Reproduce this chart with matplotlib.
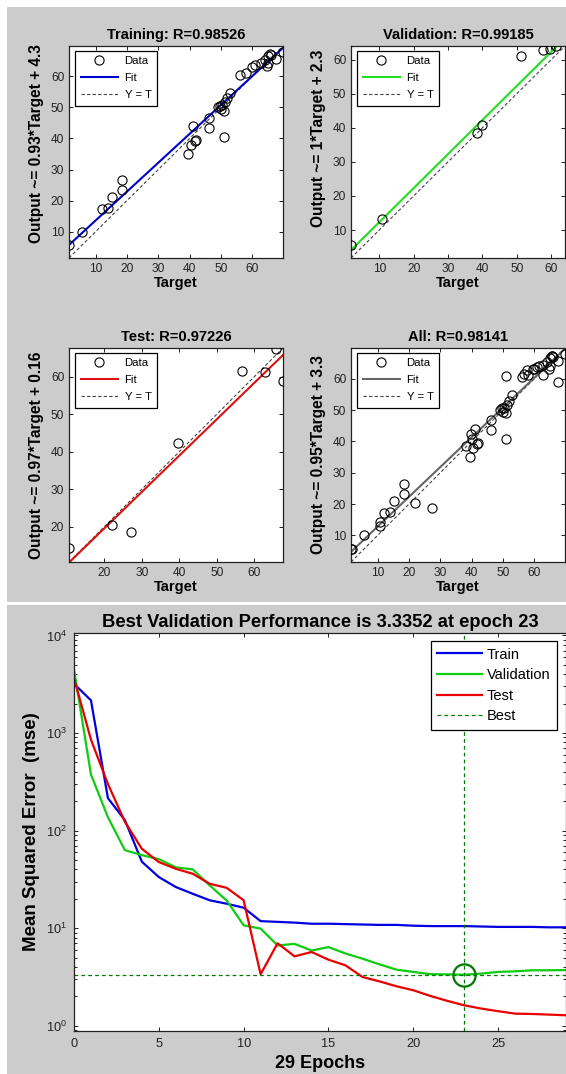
import matplotlib
matplotlib.use("Agg")
import matplotlib.pyplot as plt
from matplotlib.patches import Rectangle
from matplotlib.lines import Line2D
from matplotlib.ticker import MultipleLocator, LogLocator, NullFormatter
import numpy as np

plt.rcParams['font.family'] = ['Liberation Sans', 'DejaVu Sans']
plt.rcParams['mathtext.fontset'] = 'custom'
plt.rcParams['mathtext.rm'] = 'Liberation Sans'
plt.rcParams['mathtext.it'] = 'Liberation Sans:italic'
plt.rcParams['mathtext.bf'] = 'Liberation Sans:bold'

# ---------------- regression data ----------------
train_target = [1.5, 5.5, 12.0, 13.9, 15.3, 18.4, 18.4, 39.4, 40.4, 41.0, 41.6, 42.0,
                46.1, 46.3, 51.0, 49.0, 49.7, 50.2, 51.0, 51.2, 51.8, 52.8, 56.1, 57.9,
                59.9, 60.9, 62.8, 64.2, 64.9, 65.5, 64.7, 64.9, 67.5, 69.8, 49.9, 66.0]
train_output = [5.7, 10.0, 17.2, 17.6, 21.0, 23.3, 26.5, 35.1, 37.9, 43.9, 39.3, 39.6,
                43.5, 46.7, 40.6, 50.0, 50.5, 50.8, 48.9, 51.6, 53.0, 54.8, 60.4, 61.2,
                63.1, 63.6, 64.4, 65.2, 66.7, 67.2, 63.2, 64.2, 65.6, 67.9, 49.4, 67.0]

val_target = [1.8, 10.7, 38.3, 40.0, 51.1, 57.6, 59.7, 61.4]
val_output = [5.6, 13.1, 38.5, 40.9, 61.0, 62.9, 63.2, 64.0]

test_target = [10.6, 22.0, 27.2, 39.7, 56.8, 62.7, 65.7, 67.6]
test_output = [14.4, 20.4, 18.6, 42.4, 61.6, 61.3, 67.3, 58.8]

all_target = train_target + val_target + test_target
all_output = train_output + val_output + test_output

panel_names = ['Training', 'Validation', 'Test', 'All']
panel_r = ['0.98526', '0.99185', '0.97226', '0.98141']
fit_slope = [0.93, 1, 0.97, 0.95]
fit_intercept = [4.3, 2.3, 0.16, 3.3]
fit_colors = ['#0000cc', '#22dd22', '#dd1111', '#666666']

# ---------------- training performance ----------------
epochs = list(range(30))
train_perf = [3200, 2160, 215, 128, 48, 33.4, 26.4, 22.5, 19.3, 17.8, 16.2, 11.8, 11.6,
              11.4, 11.1, 11.1, 11.0, 10.9, 10.8, 10.8, 10.6, 10.5, 10.5, 10.5, 10.4,
              10.3, 10.3, 10.3, 10.2, 10.2]
val_perf = [4500, 375, 137, 63, 56, 51, 42, 40, 27.4, 19.2, 10.7, 9.9, 6.65, 6.9, 5.9,
            6.4, 5.5, 4.87, 4.26, 3.76, 3.56, 3.38, 3.36, 3.3352, 3.42, 3.56, 3.61, 3.70,
            3.70, 3.72]
test_perf = [3650, 855, 300, 123, 65, 47.6, 40.6, 36.1, 28.5, 25.9, 19.3, 3.37, 7.0, 5.14,
             5.7, 4.75, 4.16, 3.16, 2.85, 2.54, 2.31, 2.02, 1.80, 1.62, 1.50, 1.41, 1.33,
             1.32, 1.30, 1.28]
best_epoch = 23
best_perf = 3.3352
n_epochs = 29

# ---------------- figure ----------------
W, H = 566, 1074
fig = plt.figure(figsize=(W / 100, H / 100), dpi=100, facecolor='white')
PANEL = '#cccccc'
fig.patches.append(Rectangle((7 / W, 1 - 602 / H), 1 - 7 / W, 595 / H,
                             transform=fig.transFigure, facecolor=PANEL,
                             edgecolor='none', zorder=-10))
fig.patches.append(Rectangle((7 / W, 0), 1 - 7 / W, 1 - 604.5 / H,
                             transform=fig.transFigure, facecolor=PANEL,
                             edgecolor='none', zorder=-10))


def px_axes(x0, y0, x1, y1):
    return fig.add_axes([x0 / W, 1 - y1 / H, (x1 - x0) / W, (y1 - y0) / H])


def style_axes(ax, labelsize):
    for s in ax.spines.values():
        s.set_linewidth(0.9)
        s.set_color('#222222')
    ax.tick_params(direction='in', length=3, width=0.7, top=True, right=True,
                   labelsize=labelsize, pad=3.5, colors='#222222')


def regression_panel(ax, name, r, target, output, slope, intercept, color, label_y):
    t = np.asarray(target, dtype=float)
    o = np.asarray(output, dtype=float)
    lo = min(t.min(), o.min())
    hi = max(t.max(), o.max())
    xs = np.array([lo, hi])
    ax.set_facecolor('white')
    ax.plot(t, o, 'o', mfc='none', mec='black', ms=6.6, mew=0.8, label='Data', zorder=3)
    ax.plot(xs, slope * xs + intercept, color=color, lw=1.5, label='Fit', zorder=2)
    ax.plot(xs, xs, linestyle=(0, (3, 2)), color='#444444', lw=0.8, label='Y = T', zorder=1)
    ax.set_xlim(lo, hi)
    ax.set_ylim(lo, hi)
    ax.xaxis.set_major_locator(MultipleLocator(10))
    ax.yaxis.set_major_locator(MultipleLocator(10))
    style_axes(ax, 8.6)
    ax.set_title(f'{name}: R={r}', fontsize=10.6, fontweight='bold', pad=5)
    ax.set_xlabel('Target', fontsize=10.6, fontweight='bold', labelpad=0.5)
    ax.set_ylabel(f'Output ~= {slope:g}*Target + {intercept:g}', fontsize=11.2,
                  fontweight='bold')
    ax.yaxis.set_label_coords(-0.115, label_y)
    leg = ax.legend(loc='upper left', bbox_to_anchor=(0.028, 0.978), borderaxespad=0,
                    fontsize=8.2, frameon=True, fancybox=False, framealpha=1,
                    edgecolor='black', handlelength=3.3, handletextpad=0.55,
                    borderpad=0.5, labelspacing=0.6)
    leg.get_frame().set_linewidth(0.9)


boxes = [(69, 46, 283, 258), (351, 46, 565, 258),
         (69, 348, 283, 562), (351, 348, 565, 562)]
label_heights = [0.542, 0.566, 0.5, 0.5]
targets = [train_target, val_target, test_target, all_target]
outputs = [train_output, val_output, test_output, all_output]
for i in range(4):
    ax = px_axes(*boxes[i])
    regression_panel(ax, panel_names[i], panel_r[i], targets[i], outputs[i],
                     fit_slope[i], fit_intercept[i], fit_colors[i], label_heights[i])

# ---------------- performance plot ----------------
BEST = '#007a00'
ax = px_axes(74, 633, 566, 1031)
ax.set_facecolor('white')
ax.semilogy(epochs, train_perf, color='#0000e0', lw=1.6)
ax.semilogy(epochs, val_perf, color='#10cc10', lw=1.6)
ax.semilogy(epochs, test_perf, color='#e80000', lw=1.6)
ax.axvline(best_epoch, color=BEST, ls=(0, (3, 2.5)), lw=0.9)
ax.axhline(best_perf, color=BEST, ls=(0, (3, 2.5)), lw=0.9)
ax.plot(best_epoch, best_perf, 'o', mfc='none', mec=BEST, ms=16, mew=1.6)
ax.set_xlim(0, n_epochs)
ax.set_ylim(10 ** -0.054, 10 ** 4.025)
ax.xaxis.set_major_locator(MultipleLocator(5))
ax.yaxis.set_major_locator(LogLocator(base=10, numticks=10))
ax.yaxis.set_minor_locator(LogLocator(base=10, subs=np.arange(2, 10), numticks=20))
ax.yaxis.set_minor_formatter(NullFormatter())
style_axes(ax, 9.2)
ax.tick_params(pad=5)
ax.tick_params(which='minor', direction='in', length=2, width=0.6, right=True)
ax.set_title(f'Best Validation Performance is {best_perf} at epoch {best_epoch}',
             fontsize=13.2, fontweight='bold', pad=4)
ax.set_xlabel(f'{n_epochs} Epochs', fontsize=13, fontweight='bold', labelpad=4)
ax.set_ylabel('Mean Squared Error  (mse)', fontsize=13.5, fontweight='bold', labelpad=4)

handles = [Line2D([], [], color='#0000e0', lw=1.6),
           Line2D([], [], color='#10cc10', lw=1.6),
           Line2D([], [], color='#e80000', lw=1.6),
           Line2D([], [], color=BEST, lw=0.9, ls=(0, (3, 2.5)))]
leg = ax.legend(handles, ['Train', 'Validation', 'Test', 'Best'], loc='upper right',
                bbox_to_anchor=(1 - 9 / 492, 1 - 8 / 398), borderaxespad=0,
                fontsize=10.5, frameon=True, fancybox=False, framealpha=1,
                edgecolor='black', handlelength=3.1, handletextpad=0.3,
                borderpad=0.45, labelspacing=0.45)
leg.get_frame().set_linewidth(0.9)

fig.savefig('out.png', dpi=100, facecolor='white')
